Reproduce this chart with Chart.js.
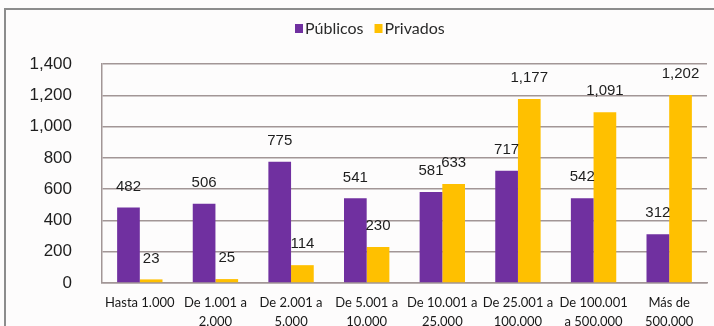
<!DOCTYPE html>
<html lang="es">
  <head>
    <meta charset="UTF-8" />
    <title>Públicos y Privados</title>
    <script src="https://cdn.jsdelivr.net/npm/chart.js"></script>
    <style>
      html, body { margin: 0; padding: 0; background: #fdfcfc; }
      #wrap { width: 714px; height: 326px; position: relative; }
    </style>
  </head>
  <body>
    <div id="wrap"><canvas id="chart" width="714" height="326"></canvas></div>
    <script>
      const categories = [
        'Hasta 1.000',
        ['De 1.001 a', '2.000'],
        ['De 2.001 a', '5.000'],
        ['De 5.001 a', '10.000'],
        ['De 10.001 a', '25.000'],
        ['De 25.001 a', '100.000'],
        ['De 100.001', 'a 500.000'],
        ['Más de', '500.000']
      ];
      const publicos = [482, 506, 775, 541, 581, 717, 542, 312];
      const privados = [23, 25, 114, 230, 633, 1177, 1091, 1202];
      const yTicks = [0, 200, 400, 600, 800, 1000, 1200, 1400];

      const gridColor = '#a29696';
      const labelFont = 'Lato, "Open Sans", sans-serif';

      // frame lines along the top and left of the chart
      const framePlugin = {
        id: 'frame',
        beforeDraw(chart) {
          const c = chart.ctx;
          c.save();
          c.strokeStyle = '#8c8c8c';
          c.lineWidth = 2;
          c.beginPath();
          c.moveTo(5, 330);
          c.lineTo(5, 9);
          c.lineTo(714, 9);
          c.stroke();
          c.restore();
        }
      };

      // legend row: small square + series name
      const legendRow = {
        id: 'legendRow',
        afterDraw(chart) {
          const c = chart.ctx;
          c.save();
          c.font = '16px ' + labelFont;
          c.textBaseline = 'middle';
          let x = 295;
          chart.data.datasets.forEach(ds => {
            c.fillStyle = ds.backgroundColor;
            c.fillRect(x, 24, 8, 9);
            c.fillStyle = '#2a2a2a';
            c.fillText(ds.label, x + 10, 28.5);
            x += 10 + c.measureText(ds.label).width + 11;
          });
          c.restore();
        }
      };

      // value above each bar
      const valueLabels = {
        id: 'valueLabels',
        afterDatasetsDraw(chart) {
          const c = chart.ctx;
          c.save();
          c.font = '15px "Liberation Sans", Arial, sans-serif';
          c.fillStyle = '#1e1e1e';
          c.textAlign = 'center';
          c.textBaseline = 'middle';
          chart.data.datasets.forEach((ds, i) => {
            chart.getDatasetMeta(i).data.forEach((bar, j) => {
              c.fillText(ds.data[j].toLocaleString('en-US'), bar.x, bar.y - 21);
            });
          });
          c.restore();
        }
      };

      new Chart(document.getElementById('chart'), {
        type: 'bar',
        data: {
          labels: categories,
          datasets: [
            { label: 'Públicos', data: publicos, backgroundColor: '#7030a0' },
            { label: 'Privados', data: privados, backgroundColor: '#ffc000' }
          ]
        },
        options: {
          responsive: false,
          animation: false,
          categoryPercentage: 0.6,
          barPercentage: 1.0,
          layout: { padding: { top: 64, right: 7, left: 0, bottom: 0 } },
          plugins: {
            legend: { display: false },
            tooltip: { enabled: false }
          },
          scales: {
            x: {
              grid: { display: false },
              border: { color: gridColor, width: 1.5 },
              ticks: {
                color: '#181818',
                maxRotation: 0,
                autoSkip: false,
                padding: 2,
                font: { family: labelFont, size: 13, lineHeight: 1.5 }
              },
              afterFit(scale) { scale.height = 43; }
            },
            y: {
              min: 0,
              max: 1400,
              afterBuildTicks(scale) { scale.ticks = yTicks.map(v => ({ value: v })); },
              grid: { color: gridColor, lineWidth: 1.5, drawTicks: false },
              border: { color: gridColor, width: 1.5 },
              ticks: {
                color: '#1e1e1e',
                padding: 30,
                font: { family: '"Liberation Sans", Arial, sans-serif', size: 17 },
                callback: v => v.toLocaleString('en-US')
              },
              afterFit(scale) { scale.width = 102; }
            }
          }
        },
        plugins: [framePlugin, legendRow, valueLabels]
      });
    </script>
  </body>
</html>
